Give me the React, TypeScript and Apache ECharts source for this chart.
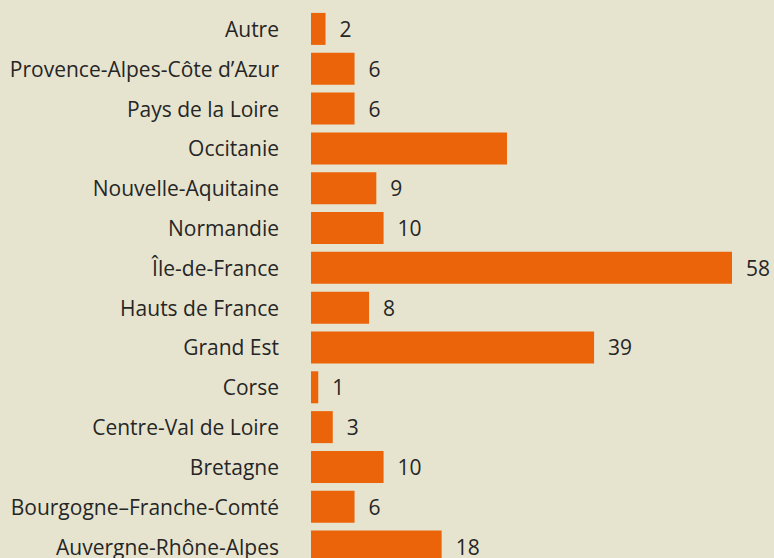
import React, { useEffect, useRef } from "react";
import * as echarts from "echarts";

const categories = [
  "Auvergne-Rhône-Alpes",
  "Bourgogne–Franche-Comté",
  "Bretagne",
  "Centre-Val de Loire",
  "Corse",
  "Grand Est",
  "Hauts de France",
  "Île-de-France",
  "Normandie",
  "Nouvelle-Aquitaine",
  "Occitanie",
  "Pays de la Loire",
  "Provence-Alpes-Côte d’Azur",
  "Autre",
];
const values = [18, 6, 10, 3, 1, 39, 8, 58, 10, 9, 27, 6, 6, 2];
const hiddenLabels = ["Occitanie"];

export default function App() {
  const ref = useRef<HTMLDivElement>(null);
  useEffect(() => {
    if (!ref.current) return;
    const chart = echarts.init(ref.current, undefined, { renderer: "svg" });
    const font = "'Open Sans', 'Noto Sans', sans-serif";
    chart.setOption({
      animation: false,
      backgroundColor: "#e6e4cf",
      grid: { left: 311, right: 42, top: 9, bottom: 13.5, containLabel: false },
      xAxis: {
        type: "value",
        min: 0,
        max: 58,
        show: false,
      },
      yAxis: {
        type: "category",
        data: categories,
        axisLine: { show: false },
        axisTick: { show: false },
        splitLine: { show: false },
        axisLabel: {
          margin: 32,
          color: "#262626",
          fontSize: 21,
          fontFamily: font,
        },
      },
      series: [
        {
          type: "bar",
          barWidth: 32,
          itemStyle: { color: "#ec6409" },
          label: {
            show: true,
            position: "right",
            distance: 14,
            color: "#262626",
            fontSize: 21,
            fontFamily: font,
          },
          data: values.map((v, i) => ({
            value: v,
            label: hiddenLabels.includes(categories[i]) ? { show: false } : undefined,
          })),
        },
      ],
    });
    return () => chart.dispose();
  }, []);
  return (
    <div
      style={{
        position: "fixed",
        top: 0,
        left: 0,
        width: 774,
        height: 558,
        overflow: "hidden",
      }}
    >
      <div ref={ref} style={{ width: 774, height: 580 }} />
    </div>
  );
}
